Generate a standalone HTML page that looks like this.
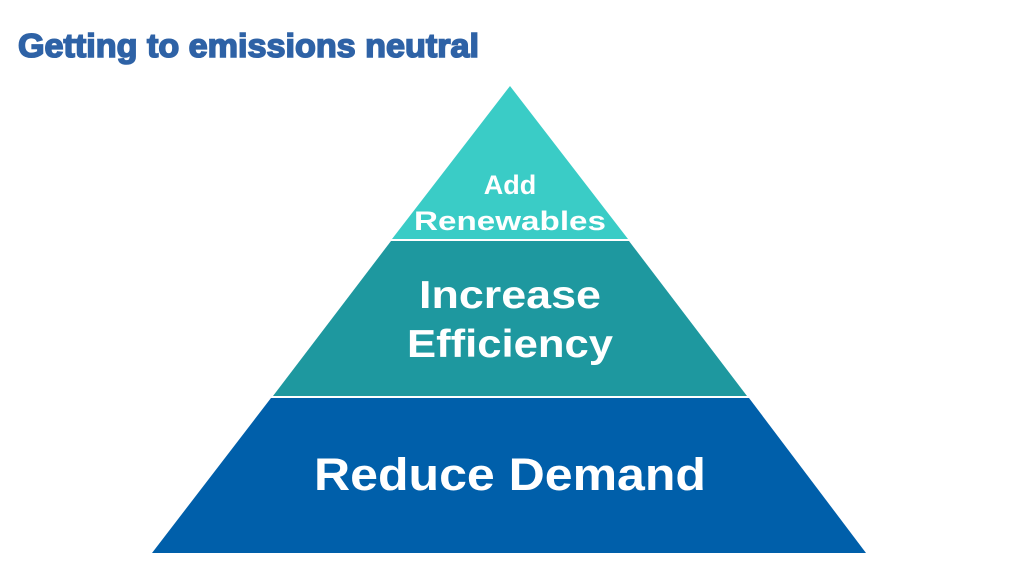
<!DOCTYPE html>
<html><head><style>body{margin:0;background:#fff;}svg{display:block}</style></head>
<body>
<svg width="1024" height="576" xmlns="http://www.w3.org/2000/svg">
<rect width="1024" height="576" fill="#fff"/>
<text x="18" y="57" font-family="Liberation Sans, sans-serif" font-weight="bold" font-size="33" fill="#2E62A6" stroke="#2E62A6" stroke-width="1.6" textLength="461" lengthAdjust="spacingAndGlyphs">Getting to emissions neutral</text>
<polygon points="510,86 628,239 392,239" fill="#3ACCC6"/>
<polygon points="391,241 629,241 747,396 273,396" fill="#1E989F"/>
<polygon points="271,398 749,398 866,553 152,553" fill="#005FAA"/>
<g font-family="Liberation Sans, sans-serif" font-weight="bold" fill="#fff" text-anchor="middle">
<text x="510" y="194" font-size="27">Add</text>
<text x="510" y="230" font-size="27" textLength="192" lengthAdjust="spacingAndGlyphs">Renewables</text>
<text x="510" y="308" font-size="39" textLength="182" lengthAdjust="spacingAndGlyphs">Increase</text>
<text x="510" y="357" font-size="39" textLength="206" lengthAdjust="spacingAndGlyphs">Efficiency</text>
<text x="510" y="490" font-size="45" textLength="392" lengthAdjust="spacingAndGlyphs">Reduce Demand</text>
</g>
</svg>
</body></html>
